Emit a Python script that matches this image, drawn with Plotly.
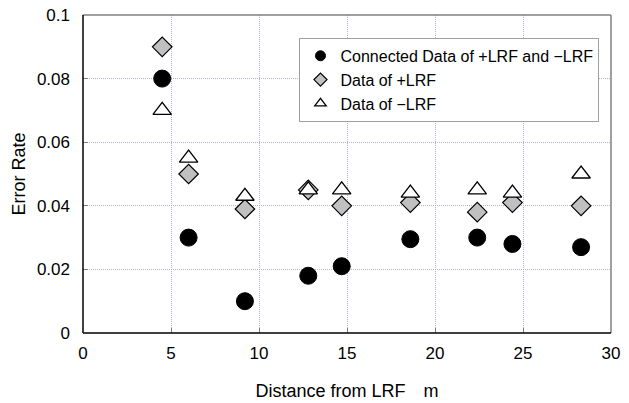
import plotly.graph_objects as go

distance = [4.5, 6.0, 9.2, 12.8, 14.7, 18.6, 22.4, 24.4, 28.3]
connected = [0.080, 0.030, 0.010, 0.018, 0.021, 0.0295, 0.030, 0.028, 0.027]
plus_lrf = [0.090, 0.050, 0.039, 0.045, 0.040, 0.041, 0.038, 0.041, 0.040]
minus_lrf = [0.070, 0.055, 0.043, 0.045, 0.045, 0.044, 0.045, 0.044, 0.050]

names = ["Connected Data of +LRF and \u2212LRF", "Data of +LRF", "Data of \u2212LRF"]
x_ticks = [0, 5, 10, 15, 20, 25, 30]
y_ticks = [0, 0.02, 0.04, 0.06, 0.08, 0.1]
y_tick_text = ["0", "0.02", "0.04", "0.06", "0.08", "0.1"]

FONT = "Liberation Sans, Arial, Noto Sans CJK JP"

styles = [
    dict(symbol="circle", color="black", line=dict(color="black", width=1), size=17, lsize=10),
    dict(symbol="diamond", color="#c0c0c0", line=dict(color="black", width=1.2), size=15, lsize=10),
    dict(symbol="triangle-up", color="white", line=dict(color="black", width=1.3), size=16, lsize=10),
]

fig = go.Figure()
for name, ys, st in zip(names, [connected, plus_lrf, minus_lrf], styles):
    fig.add_trace(go.Scatter(
        x=distance, y=ys, mode="markers", name=name, showlegend=False,
        marker=dict(symbol=st["symbol"], color=st["color"], size=st["size"], line=st["line"]),
    ))
for name, st in zip(names, styles):
    fig.add_trace(go.Scatter(
        x=[None], y=[None], mode="markers", name=name, showlegend=True,
        marker=dict(symbol=st["symbol"], color=st["color"], size=st["lsize"], line=st["line"]),
    ))

grid_color = "#b4b4d8"

fig.update_layout(
    width=629, height=403,
    margin=dict(l=83, r=18, t=15, b=70),
    paper_bgcolor="white", plot_bgcolor="white",
    font=dict(family=FONT, size=16, color="black"),
    showlegend=True,
    legend=dict(
        x=0.41, y=0.928, xanchor="left", yanchor="top",
        bgcolor="white", bordercolor="#a0a0a0", borderwidth=1,
        font=dict(family=FONT, size=16),
        itemsizing="trace",
        tracegroupgap=0,
    ),
    xaxis=dict(
        range=[0, 30], tickvals=x_ticks, ticktext=[str(v) for v in x_ticks],
        showgrid=True, gridcolor=grid_color, griddash="1px,1px", gridwidth=1,
        showline=False, zeroline=False,
        ticks="inside", ticklen=5, tickcolor="#808080",
        ticklabelstandoff=8,
        tickfont=dict(size=17),
        automargin=False,
        title=dict(text="Distance from LRF\u3000m", standoff=22, font=dict(size=18)),
    ),
    yaxis=dict(
        range=[0, 0.1], tickvals=y_ticks, ticktext=y_tick_text,
        showgrid=True, gridcolor=grid_color, griddash="1px,1px", gridwidth=1,
        showline=False, zeroline=False,
        ticks="inside", ticklen=5, tickcolor="#808080",
        ticklabelstandoff=12,
        tickfont=dict(size=17),
        automargin=False,
        title=dict(text="Error Rate", standoff=6, font=dict(size=18)),
    ),
    shapes=[
        dict(type="line", xref="paper", yref="paper", x0=0, x1=1, y0=1, y1=1, line=dict(color="#808080", width=1.5)),
        dict(type="line", xref="paper", yref="paper", x0=1, x1=1, y0=0, y1=1, line=dict(color="#808080", width=1.5)),
        dict(type="line", xref="paper", yref="paper", x0=0, x1=1, y0=0, y1=0, line=dict(color="black", width=1.5)),
        dict(type="line", xref="paper", yref="paper", x0=0, x1=0, y0=0, y1=1, line=dict(color="black", width=1.5)),
    ],
)

fig.write_html(
    "out.html",
    config={"displayModeBar": False},
    post_script="document.body.style.margin='0';document.body.style.overflow='hidden';",
)
